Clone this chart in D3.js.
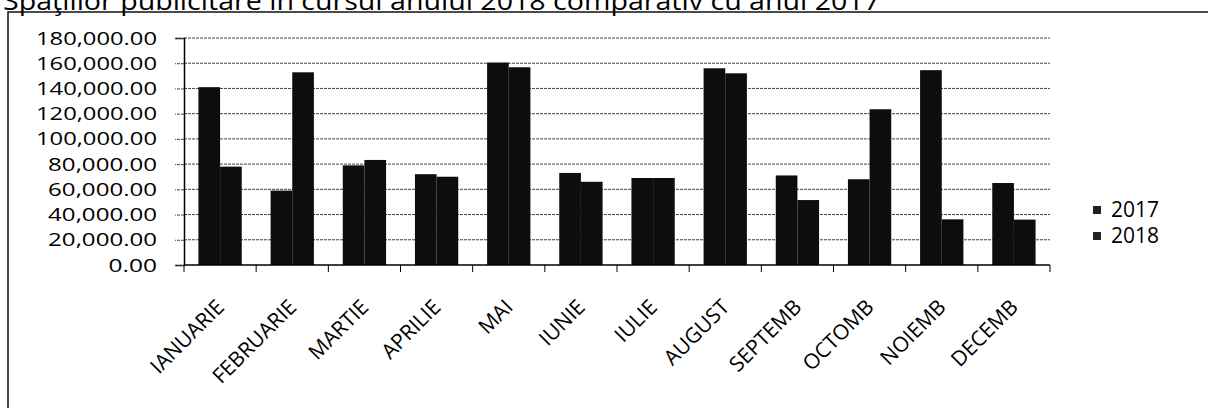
<!DOCTYPE html>
<html>
<head>
<meta charset="utf-8">
<script src="https://cdn.jsdelivr.net/npm/d3@7"></script>
<style>
  body { margin: 0; background: #fff; }
  svg { display: block; font-family: "Open Sans", "Liberation Sans", sans-serif; }
</style>
</head>
<body>
<div id="chart"></div>
<script>
// monthly values
var months = ["IANUARIE", "FEBRUARIE", "MARTIE", "APRILIE", "MAI", "IUNIE",
  "IULIE", "AUGUST", "SEPTEMB", "OCTOMB", "NOIEMB", "DECEMB"];
var seriesNames = ["2017", "2018"];
var values2017 = [141000, 59000, 79000, 72000, 160500, 73000, 69000, 156000, 71000, 68000, 154500, 65000];
var values2018 = [78000, 152800, 83300, 70000, 156800, 66000, 69000, 152000, 51500, 123500, 36200, 36000];
var yTicks = [0, 20000, 40000, 60000, 80000, 100000, 120000, 140000, 160000, 180000];
var titleText = "Spaţiilor publicitare în cursul anului 2018 comparativ cu anul 2017";

var width = 1208;
var height = 408;

var plot = { left: 184, right: 1050, top: 38, bottom: 265 };

var svg = d3.select("#chart")
  .append("svg")
  .attr("width", width)
  .attr("height", height);

// title, cut off at the top of the scan
svg.append("text")
  .attr("x", 3)
  .attr("y", 10)
  .attr("font-size", 25)
  .attr("textLength", 877)
  .attr("lengthAdjust", "spacingAndGlyphs")
  .attr("fill", "#000")
  .text(titleText);

// outer chart frame
svg.append("path")
  .attr("d", "M8,408 L8,12 L1208,12")
  .attr("fill", "none")
  .attr("stroke", "#111")
  .attr("stroke-width", 1.5);

var xScale = d3.scaleBand()
  .domain(months)
  .range([plot.left, plot.right]);

var xInner = d3.scaleBand()
  .domain(seriesNames)
  .range([0, xScale.bandwidth() * 0.6])
  .padding(0);

var yScale = d3.scaleLinear()
  .domain([0, 180000])
  .range([plot.bottom, plot.top]);

// gridlines
svg.append("g")
  .selectAll("line")
  .data(yTicks.slice(1))
  .enter()
  .append("line")
  .attr("x1", plot.left)
  .attr("x2", plot.right)
  .attr("y1", function(d) { return yScale(d); })
  .attr("y2", function(d) { return yScale(d); })
  .attr("stroke", "#444")
  .attr("stroke-width", 1)
  .attr("stroke-dasharray", "3,1");

// bars
var rows = months.map(function(m, i) {
  return { month: m, vals: [values2017[i], values2018[i]] };
});

var groups = svg.append("g")
  .selectAll("g")
  .data(rows)
  .enter()
  .append("g")
  .attr("transform", function(d) {
    return "translate(" + (xScale(d.month) + xScale.bandwidth() * 0.2) + ",0)";
  });

groups.selectAll("rect")
  .data(function(d) {
    return d.vals.map(function(v, j) { return { name: seriesNames[j], value: v }; });
  })
  .enter()
  .append("rect")
  .attr("x", function(d) { return xInner(d.name); })
  .attr("y", function(d) { return yScale(d.value); })
  .attr("width", xInner.bandwidth())
  .attr("height", function(d) { return plot.bottom - yScale(d.value); })
  .attr("fill", "#0d0d0d");

// y axis
var yFormat = d3.format(",.2f");
var yAxis = svg.append("g")
  .attr("transform", "translate(" + plot.left + ",0)")
  .call(d3.axisLeft(yScale)
    .tickValues(yTicks)
    .tickSize(9)
    .tickPadding(18)
    .tickFormat(yFormat));

yAxis.select(".domain").attr("stroke", "#000").attr("stroke-width", 1.5);
yAxis.selectAll(".tick line").attr("stroke", "#444").attr("stroke-dasharray", "3,1");
yAxis.selectAll("text")
  .attr("font-size", 19)
  .attr("fill", "#000")
  .attr("textLength", function(d) { return yFormat(d).length * 12.1; })
  .attr("lengthAdjust", "spacingAndGlyphs")
  .style("font-family", "\"Open Sans\", sans-serif");

// x axis: ticks sit at category boundaries
var xAxis = svg.append("g")
  .attr("transform", "translate(0," + plot.bottom + ")");

xAxis.append("line")
  .attr("x1", plot.left)
  .attr("x2", plot.right)
  .attr("stroke", "#000")
  .attr("stroke-width", 1.5);

xAxis.selectAll(".bound")
  .data(months.concat(["end"]))
  .enter()
  .append("line")
  .attr("class", "bound")
  .attr("x1", function(d, i) { return plot.left + i * xScale.step(); })
  .attr("x2", function(d, i) { return plot.left + i * xScale.step(); })
  .attr("y1", 0)
  .attr("y2", 7)
  .attr("stroke", "#000");

xAxis.selectAll(".mlabel")
  .data(months)
  .enter()
  .append("text")
  .attr("class", "mlabel")
  .attr("font-size", 21)
  .attr("text-anchor", "end")
  .attr("transform", function(d) {
    var cx = xScale(d) + xScale.bandwidth() / 2 - 5;
    return "translate(" + cx + ",33) rotate(-45)";
  })
  .attr("dy", "0.7em")
  .attr("fill", "#000")
  .text(function(d) { return d; });

// legend
var legend = svg.append("g")
  .selectAll("g")
  .data(seriesNames)
  .enter()
  .append("g")
  .attr("transform", function(d, i) { return "translate(1093," + (210 + i * 26) + ")"; });

legend.append("rect")
  .attr("x", 0)
  .attr("y", -4)
  .attr("width", 8)
  .attr("height", 8)
  .attr("fill", "#222");

legend.append("text")
  .attr("x", 18)
  .attr("dy", "0.35em")
  .attr("font-size", 21)
  .attr("fill", "#000")
  .text(function(d) { return d; });
</script>
</body>
</html>
